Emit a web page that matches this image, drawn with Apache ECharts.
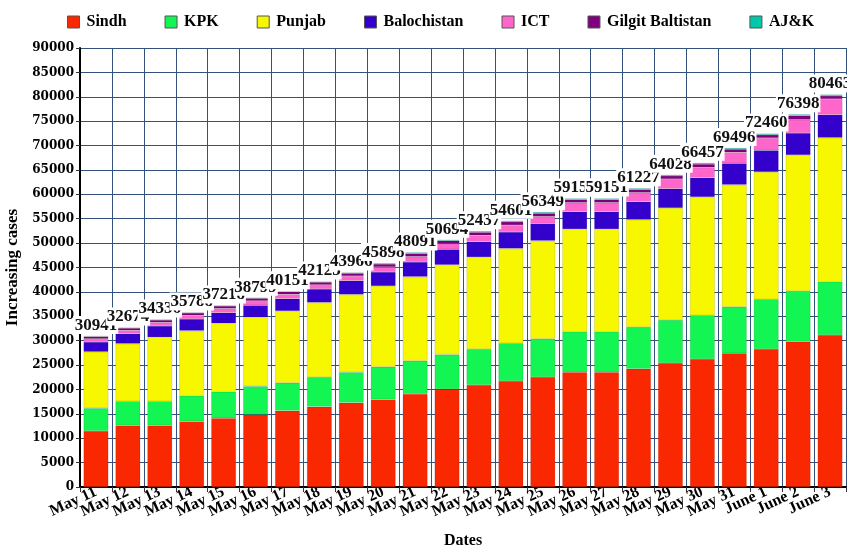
<!DOCTYPE html>
<html>
<head>
<meta charset="utf-8">
<script src="https://cdn.jsdelivr.net/npm/echarts@6/dist/echarts.min.js"></script>
<style>
  html, body { margin: 0; padding: 0; background: #fff; }
  #main { width: 847px; height: 545px; }
</style>
</head>
<body>
<div id="main"></div>
<script>
// dates on the x axis
var dates = ['May 11','May 12','May 13','May 14','May 15','May 16','May 17','May 18','May 19','May 20',
  'May 21','May 22','May 23','May 24','May 25','May 26','May 27','May 28','May 29','May 30','May 31',
  'June 1','June 2','June 3'];

// cases per region
var sindh = [11480,12610,12610,13460,14080,14830,15650,16470,17290,17970,19070,20060,20910,21730,22550,23510,23510,24250,25420,26240,27410,28290,29790,31160];
var kpk = [4669,4970,4970,5260,5460,5810,5730,6080,6220,6690,6820,7100,7380,7730,7850,8330,8330,8550,8820,8960,9550,10190,10390,10930];
var punjab = [11568,11800,13120,13320,14020,14150,14700,15270,15950,16540,17220,18380,18830,19430,20090,21020,21020,22000,22960,24250,25010,26100,27880,29520];
var balochistan = [2017,2061,2320,2400,2170,2460,2520,2770,2830,2880,3020,3190,3170,3390,3530,3580,3580,3690,3950,3960,4390,4440,4510,4710];
var ict = [641,667,716,744,864,906,910,850,960,1020,1100,1200,1300,1400,1420,1850,1850,1850,1990,2100,2250,2530,2730,3220];
var gilgit = [466,466,498,505,518,530,528,560,576,619,647,560,640,700,680,640,640,660,660,700,650,660,830,660];
var ajk = [100,100,102,99,106,113,113,125,140,179,214,204,207,221,229,221,221,227,228,247,236,250,268,263];

// totals printed above the bars
var totals = [30941,32674,34336,35788,37218,38799,40151,42125,43966,45898,48091,50694,52437,54601,56349,59151,59151,61227,64028,66457,69496,72460,76398,80463];

var names = ['Sindh','KPK','Punjab','Balochistan','ICT','Gilgit Baltistan','AJ&K'];
var colors = ['#FA2800','#12F552','#F7F700','#3300CC','#FF66CC','#800080','#00C8A8'];
var values = [sindh, kpk, punjab, balochistan, ict, gilgit, ajk];

var serif = '"Liberation Serif", "Times New Roman", serif';
var gridColor = '#34507c';

var series = names.map(function (n, i) {
  var s = {
    name: n,
    type: 'bar',
    stack: 'cases',
    barCategoryGap: '22%',
    data: values[i],
    itemStyle: { color: colors[i], borderColor: 'rgba(0,0,0,0.18)', borderWidth: 0.6 },
    emphasis: { disabled: true }
  };
  if (i === names.length - 1) {
    s.label = {
      show: true,
      position: 'top',
      distance: 2,
      formatter: function (p) { return totals[p.dataIndex]; },
      fontFamily: serif,
      fontWeight: 'bold',
      fontSize: 17,
      color: '#111',
      backgroundColor: '#fff',
      padding: [1, 1, 0, 1]
    };
  }
  return s;
});

var chart = echarts.init(document.getElementById('main'), null, { renderer: 'canvas' });
chart.setOption({
  animation: false,
  color: colors,
  legend: {
    top: 9,
    left: 62,
    itemWidth: 12,
    itemHeight: 12,
    itemGap: 38,
    icon: 'rect',
    itemStyle: { borderColor: '#555', borderWidth: 1 },
    textStyle: { fontFamily: serif, fontWeight: 'bold', fontSize: 16, color: '#000', padding: [0, 0, 0, 2] },
    data: names
  },
  grid: { left: 80, right: 1, top: 48, bottom: 58, outerBoundsMode: 'none', containLabel: false },
  xAxis: {
    type: 'category',
    data: dates,
    name: 'Dates',
    nameLocation: 'middle',
    nameGap: 46,
    nameTextStyle: { fontFamily: serif, fontWeight: 'bold', fontSize: 16, color: '#000' },
    axisLine: { lineStyle: { color: '#000', width: 2 } },
    axisTick: { show: true, length: 5, lineStyle: { color: '#333' } },
    axisLabel: {
      interval: 0,
      rotate: 25,
      margin: 4,
      fontFamily: serif,
      fontWeight: 'bold',
      fontSize: 16,
      color: '#000'
    },
    splitLine: { show: true, lineStyle: { color: gridColor, width: 1 } }
  },
  yAxis: {
    type: 'value',
    min: 0,
    max: 90000,
    interval: 5000,
    name: 'Increasing cases',
    nameLocation: 'middle',
    nameGap: 56,
    nameTextStyle: { fontFamily: serif, fontWeight: 'bold', fontSize: 17, color: '#000' },
    axisLine: { show: true, lineStyle: { color: '#000', width: 2 } },
    axisTick: { show: true, length: 4, lineStyle: { color: '#333' } },
    axisLabel: {
      margin: 6,
      formatter: function (v) { return String(v); },
      fontFamily: '"DejaVu Serif", serif',
      fontWeight: 'bold',
      fontSize: 12,
      color: '#000'
    },
    splitLine: { show: true, lineStyle: { color: gridColor, width: 1 } }
  },
  series: series
});
</script>
</body>
</html>
